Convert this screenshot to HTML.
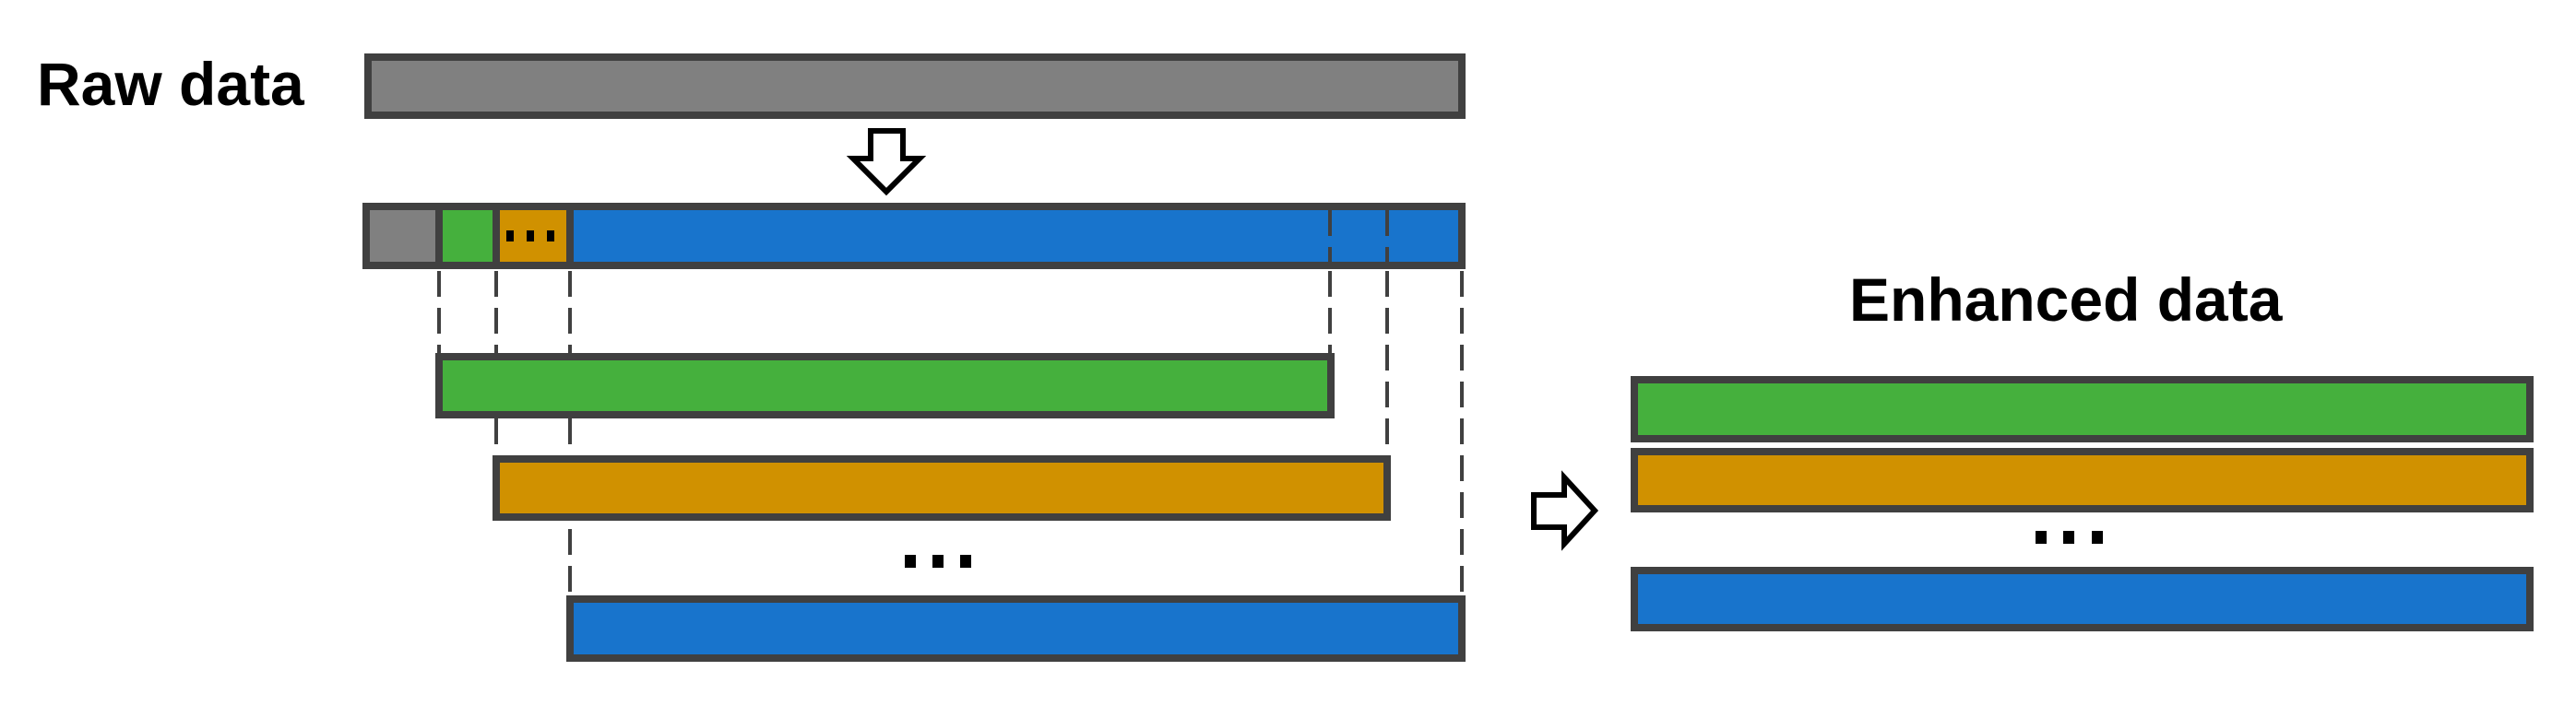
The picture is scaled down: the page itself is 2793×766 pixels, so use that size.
<!DOCTYPE html>
<html><head><style>html,body{margin:0;padding:0;background:#fff;}svg{display:block}</style></head>
<body>
<svg width="2793" height="766" viewBox="0 0 2793 766" xmlns="http://www.w3.org/2000/svg">
<g font-family="Liberation Sans, sans-serif" font-weight="bold" fill="#000">
<text x="40" y="114" font-size="66">Raw data</text>
<text x="2005" y="348" font-size="66">Enhanced data</text>
</g>
<g stroke="#404040" stroke-width="8">
<rect x="399" y="62" width="1186" height="63" fill="#808080"/>
<!-- segmented bar -->
<rect x="397" y="224" width="1188" height="64" fill="#1874cc"/>
<rect x="401" y="228" width="75" height="56" fill="#808080" stroke="none"/>
<rect x="480" y="228" width="54" height="56" fill="#45b03d" stroke="none"/>
<rect x="542" y="228" width="73" height="56" fill="#d09100" stroke="none"/>
<line x1="476" y1="226" x2="476" y2="286"/>
<line x1="538" y1="226" x2="538" y2="286"/>
<line x1="618" y1="226" x2="618" y2="286"/>
</g>
<g stroke="#404040" stroke-width="4" stroke-dasharray="28,12" fill="none">
<line x1="1442" y1="228" x2="1442" y2="284"/>
<line x1="1504" y1="228" x2="1504" y2="284"/>
<line x1="476" y1="294" x2="476" y2="385"/>
<line x1="538" y1="294" x2="538" y2="496"/>
<line x1="618" y1="294" x2="618" y2="648"/>
<line x1="1442" y1="294" x2="1442" y2="385"/>
<line x1="1504" y1="294" x2="1504" y2="496"/>
<line x1="1585" y1="294" x2="1585" y2="648"/>
</g>
<g stroke="#404040" stroke-width="8">
<rect x="476" y="387" width="967" height="63" fill="#45b03d"/>
<rect x="538" y="498" width="966" height="63" fill="#d09100"/>
<rect x="618" y="650" width="967" height="64" fill="#1874cc"/>
<rect x="1772" y="412" width="971" height="64" fill="#45b03d"/>
<rect x="1772" y="490" width="971" height="62" fill="#d09100"/>
<rect x="1772" y="619" width="971" height="62" fill="#1874cc"/>
</g>
<!-- dots -->
<g fill="#000">
<rect x="549" y="250" width="8" height="12"/><rect x="571" y="250" width="8" height="12"/><rect x="593" y="250" width="8" height="12"/>
<rect x="981" y="602" width="12" height="14"/><rect x="1011" y="602" width="12" height="14"/><rect x="1041" y="602" width="12" height="14"/>
<rect x="2207" y="576" width="12" height="14"/><rect x="2237" y="576" width="12" height="14"/><rect x="2268" y="576" width="12" height="14"/>
</g>
<!-- arrows -->
<polygon points="944,142 979,142 979,172 997,172 961,208 925,172 944,172" fill="#fff" stroke="#000" stroke-width="6" stroke-linejoin="miter"/>
<polygon points="1663,537 1696,537 1696,518 1729,554 1696,590 1696,572 1663,572" fill="#fff" stroke="#000" stroke-width="6"/>
</svg>
</body></html>
